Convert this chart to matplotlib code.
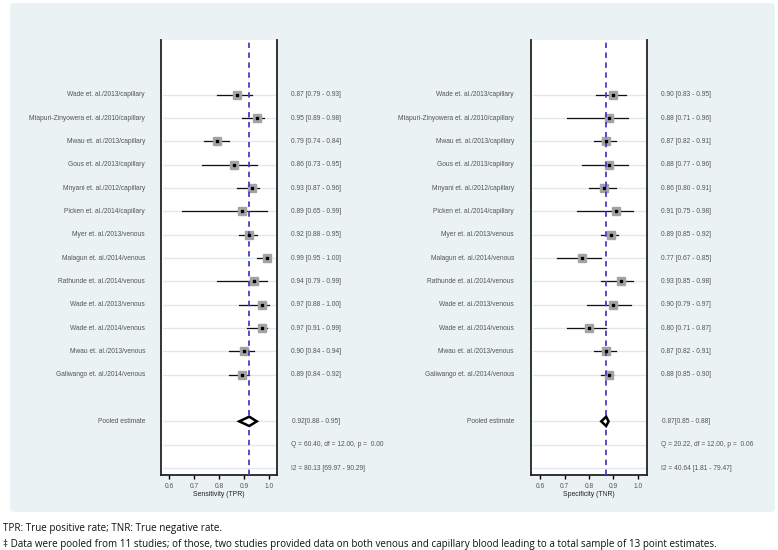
import matplotlib
matplotlib.use("Agg")
import matplotlib.pyplot as plt
import matplotlib.transforms as mtransforms
from matplotlib.patches import FancyBboxPatch, Polygon

studies = [
    "Wade et. al./2013/capillary",
    "Mtapuri-Zinyowera et. al./2010/capillary",
    "Mwau et. al./2013/capillary",
    "Gous et. al./2013/capillary",
    "Mnyani et. al./2012/capillary",
    "Picken et. al./2014/capillary",
    "Myer et. al./2013/venous",
    "Malagun et. al./2014/venous",
    "Rathunde et. al./2014/venous",
    "Wade et. al./2013/venous",
    "Wade et. al./2014/venous",
    "Mwau et. al./2013/venous",
    "Galiwango et. al./2014/venous",
]

sens = [0.87, 0.95, 0.79, 0.86, 0.93, 0.89, 0.92, 0.99, 0.94, 0.97, 0.97, 0.90, 0.89]
sens_lo = [0.79, 0.89, 0.74, 0.73, 0.87, 0.65, 0.88, 0.95, 0.79, 0.88, 0.91, 0.84, 0.84]
sens_hi = [0.93, 0.98, 0.84, 0.95, 0.96, 0.99, 0.95, 1.00, 0.99, 1.00, 0.99, 0.94, 0.92]
sens_pooled = [0.92, 0.88, 0.95]
sens_q = "Q = 60.40, df = 12.00, p =  0.00"
sens_i2 = "I2 = 80.13 [69.97 - 90.29]"

spec = [0.90, 0.88, 0.87, 0.88, 0.86, 0.91, 0.89, 0.77, 0.93, 0.90, 0.80, 0.87, 0.88]
spec_lo = [0.83, 0.71, 0.82, 0.77, 0.80, 0.75, 0.85, 0.67, 0.85, 0.79, 0.71, 0.82, 0.85]
spec_hi = [0.95, 0.96, 0.91, 0.96, 0.91, 0.98, 0.92, 0.85, 0.98, 0.97, 0.87, 0.91, 0.90]
spec_pooled = [0.87, 0.85, 0.88]
spec_q = "Q = 20.22, df = 12.00, p =  0.06"
spec_i2 = "I2 = 40.64 [1.81 - 79.47]"

xticks = [0.6, 0.7, 0.8, 0.9, 1.0]
xlabels = ["Sensitivity (TPR)", "Specificity (TNR)"]

footnotes = [
    "TPR: True positive rate; TNR: True negative rate.",
    "\u2021 Data were pooled from 11 studies; of those, two studies provided data on both venous and capillary blood leading to a total sample of 13 point estimates.",
]

W, H = 778, 550
fig = plt.figure(figsize=(W / 100, H / 100), dpi=100)
fig.patch.set_facecolor("white")

bg = FancyBboxPatch((10 / W, 1 - 512 / H), 765 / W, 509 / H,
                    boxstyle="round,pad=0,rounding_size=0.006",
                    transform=fig.transFigure, facecolor="#eaf2f4",
                    edgecolor="none", zorder=-10)
fig.patches.append(bg)

FONT = "Liberation Sans"
small = 4.75
text_col = "#555555"
grid_col = "#dfe8eb"
dash_col = "#4a3cc8"

n = len(studies)
pooled_row = n + 1
q_row = n + 2
i2_row = n + 3

for (left_px, label_x_px, text_x_px, vals, lo, hi, pooled, qtxt, i2txt, xlabel, xlim) in [
    (161, 145, 291, sens, sens_lo, sens_hi, sens_pooled, sens_q, sens_i2, xlabels[0], (0.567, 1.031)),
    (531, 514, 661, spec, spec_lo, spec_hi, spec_pooled, spec_q, spec_i2, xlabels[1], (0.563, 1.037)),
]:
    ax = fig.add_axes([left_px / W, 1 - 475 / H, 116 / W, 435 / H])
    ax.set_facecolor("white")
    ax.set_xlim(*xlim)
    ax.set_ylim(i2_row + 0.3, -2.35)
    ax.set_yticks([])
    ax.set_xticks(xticks)
    ax.set_xticklabels([f"{t:.1f}" for t in xticks], fontsize=small, color=text_col, family=FONT)
    ax.tick_params(axis="x", direction="out", length=3, width=1.0, color="black", pad=3)
    ax.spines["top"].set_visible(False)
    for s in ["left", "right", "bottom"]:
        ax.spines[s].set_linewidth(1.3)
        ax.spines[s].set_color("#222222")
    ax.set_xlabel(xlabel, fontsize=small + 0.2, family=FONT, color="#222222", labelpad=0.5)

    rows = list(range(n)) + [pooled_row, q_row, i2_row]
    for r in rows:
        ax.plot([xlim[0] + 0.008, xlim[1] - 0.008], [r, r], color=grid_col, lw=1.0, zorder=1)

    ax.axvline(pooled[0], color=dash_col, ls=(0, (3, 2.5)), lw=1.3, zorder=4)

    for i in range(n):
        ax.plot([lo[i], hi[i]], [i, i], color="#111111", lw=0.9, zorder=2)
        ax.plot(vals[i], i, marker="s", ms=5.4, mfc="#a3a3a3", mec="#a3a3a3", zorder=3)
        ax.plot(vals[i], i, marker="s", ms=2.0, mfc="black", mec="black", zorder=5)

    dh = 0.2
    diamond = Polygon([[pooled[1], pooled_row], [pooled[0], pooled_row - dh],
                       [pooled[2], pooled_row], [pooled[0], pooled_row + dh]],
                      closed=True, facecolor="white", edgecolor="black", lw=1.8, zorder=5)
    ax.add_patch(diamond)

    trans = mtransforms.blended_transform_factory(fig.transFigure, ax.transData)
    for i in range(n):
        fig.text(label_x_px / W, i, studies[i], transform=trans, ha="right", va="center",
                 fontsize=small, color=text_col, family=FONT)
        fig.text(text_x_px / W, i, f"{vals[i]:.2f} [{lo[i]:.2f} - {hi[i]:.2f}]", transform=trans,
                 ha="left", va="center", fontsize=small, color=text_col, family=FONT)
    fig.text(label_x_px / W, pooled_row, "Pooled estimate", transform=trans, ha="right",
             va="center", fontsize=small, color=text_col, family=FONT)
    for r, s, lx in [(pooled_row, f"{pooled[0]:.2f}[{pooled[1]:.2f} - {pooled[2]:.2f}]", text_x_px + 1),
                     (q_row, qtxt, text_x_px),
                     (i2_row, i2txt, text_x_px)]:
        fig.text(lx / W, r, s, transform=trans, ha="left", va="center",
                 fontsize=small, color=text_col, family=FONT)

fig.text(3 / W, 1 - 529 / H, footnotes[0], ha="left", va="center", fontsize=7.1,
         family="Open Sans", color="#111111")
fig.text(3 / W, 1 - 544 / H, footnotes[1], ha="left", va="center", fontsize=7.1,
         family="Open Sans", color="#111111")

fig.savefig("out.png", dpi=100, facecolor="white")
